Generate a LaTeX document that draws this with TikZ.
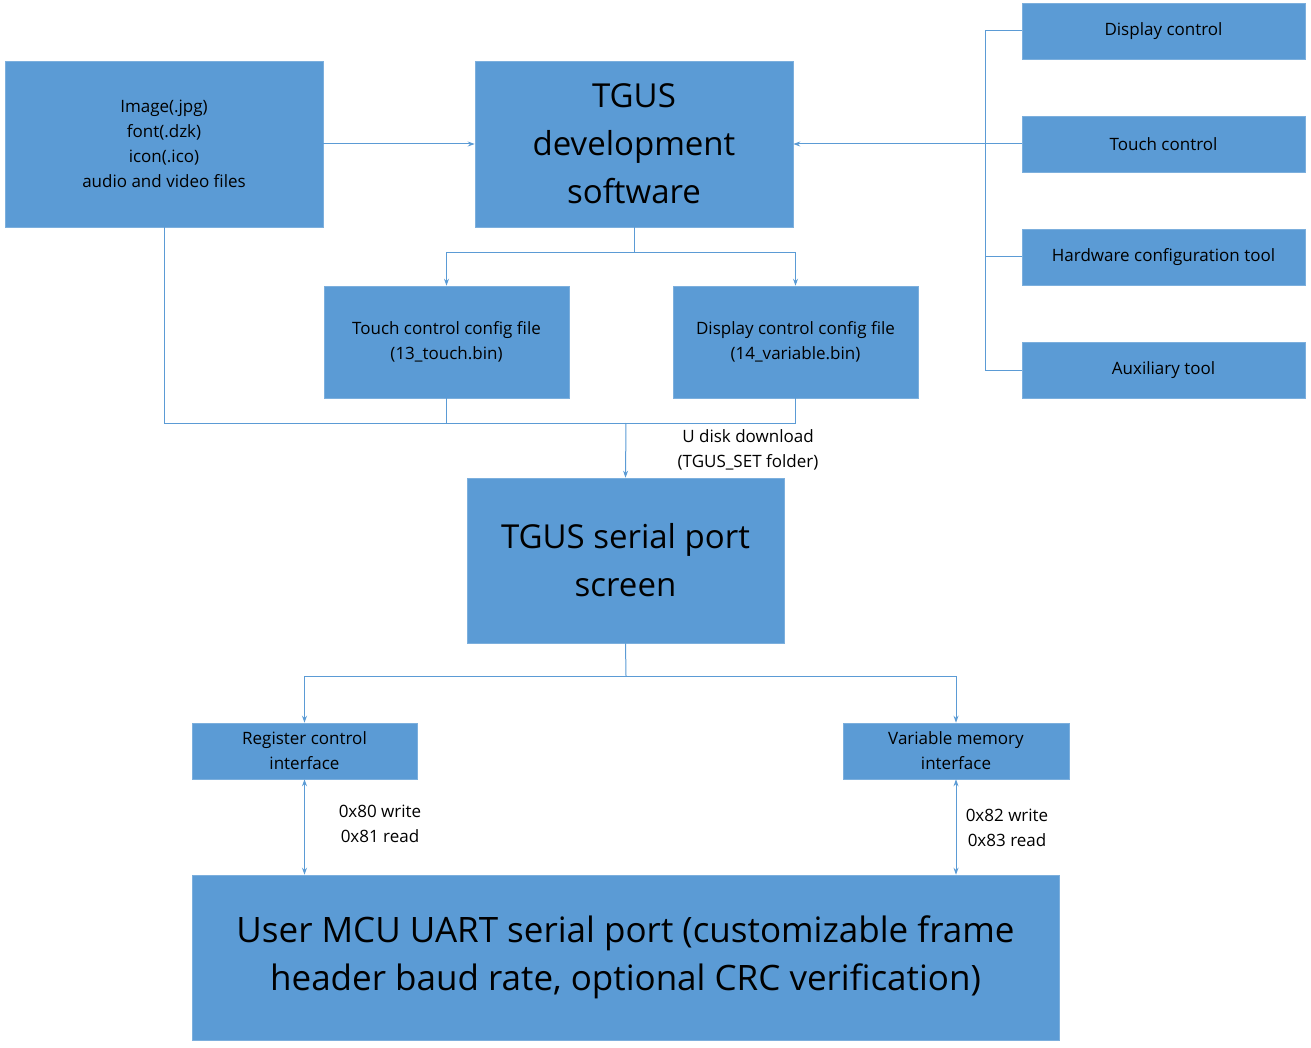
\documentclass[tikz,border=0pt]{standalone}
\usepackage{fontspec}
\setmainfont{Open Sans}
\usetikzlibrary{arrows.meta}
\definecolor{bx}{HTML}{5B9BD5}
\begin{document}
\begin{tikzpicture}[x=1pt,y=-1pt,
  box/.style={fill=bx,draw=bx!80!white,line width=0.6pt,align=center,inner sep=0pt,text=black},
  sm/.style={font=\fontsize{17}{25}\selectfont},
  bg/.style={font=\fontsize{33}{48}\selectfont},
  ln/.style={draw=bx,line width=1pt},
  ar/.style={ln,-{Stealth[length=7pt,width=5pt]}},
  dar/.style={ln,{Stealth[length=7pt,width=5pt]}-{Stealth[length=7pt,width=5pt]}}]
\useasboundingbox (0,0) rectangle (1311,1048);
\newcommand{\bxx}[6]{\node[box,#6,minimum width=#3-#2,minimum height=#5-#4] (#1) at ({(#2+#3)/2},{(#4+#5)/2}) {};}
\node[box,sm,minimum width=318,minimum height=166] (files) at (164,144) {Image(.jpg)\\font(.dzk)\\icon(.ico)\\audio and video files};
\node[box,bg,minimum width=318,minimum height=166] (dev) at (634,144) {TGUS\\development\\software};
\node[box,sm,minimum width=283,minimum height=56] (disp) at (1163.5,31) {Display control};
\node[box,sm,minimum width=283,minimum height=56] (touch) at (1163.5,144) {Touch control};
\node[box,sm,minimum width=283,minimum height=56] (hw) at (1163.5,257) {Hardware configuration tool};
\node[box,sm,minimum width=283,minimum height=56] (aux) at (1163.5,370) {Auxiliary tool};
\node[box,sm,minimum width=245,minimum height=112] (tcf) at (446.5,342) {Touch control config file\\(13\_touch.bin)};
\node[box,sm,minimum width=245,minimum height=112] (dcf) at (795.5,342) {Display control config file\\(14\_variable.bin)};
\node[box,bg,minimum width=317,minimum height=165] (scr) at (625.5,560.5) {TGUS serial port\\screen};
\node[box,sm,minimum width=225,minimum height=56] (reg) at (304.5,751) {Register control\\interface};
\node[box,sm,minimum width=226,minimum height=56] (var) at (956,751) {Variable memory\\interface};
\node[box,font=\fontsize{35}{48}\selectfont,minimum width=867,minimum height=165] (mcu) at (625.5,957.5) {User MCU UART serial port (customizable frame\\header baud rate, optional CRC verification)};
% files -> dev
\draw[ar] (files.east) -- (dev.west);
% right bracket
\coordinate (bk) at (985,144);
\draw[ln] (disp.west) -| (985,370) -- (aux.west);
\draw[ln] (hw.west) -- (985,257);
\draw[ar] (touch.west) -- (dev.east);
% dev -> config files
\coordinate (d1) at (634,253);
\draw[ln] (dev.south) -- (d1);
\draw[ar] (d1) -| (tcf.north);
\draw[ar] (d1) -| (dcf.north);
% to screen
\coordinate (j) at (626,423);
\draw[ln] (files.south) |- (dcf.south |- j) -- (dcf.south);
\draw[ln] (tcf.south) -- (tcf.south |- j);
\draw[ar] (j) -- (scr.north);
\node[sm,align=center,anchor=north] (ul) at (748,426) {U disk download\\(TGUS\_SET folder)};
% screen -> interfaces
\coordinate (s1) at (626,676);
\draw[ln] (scr.south) -- (s1);
\draw[ar] (s1) -| (reg.north);
\draw[ar] (s1) -| (var.north);
\draw[dar] (reg.south) -- (reg.south |- mcu.north);
\draw[dar] (var.south) -- (var.south |- mcu.north);
\node[sm,align=center] (l1) at (380,824) {0x80 write\\0x81 read};
\node[sm,align=center] (l2) at (1007,828) {0x82 write\\0x83 read};
\end{tikzpicture}
\end{document}
